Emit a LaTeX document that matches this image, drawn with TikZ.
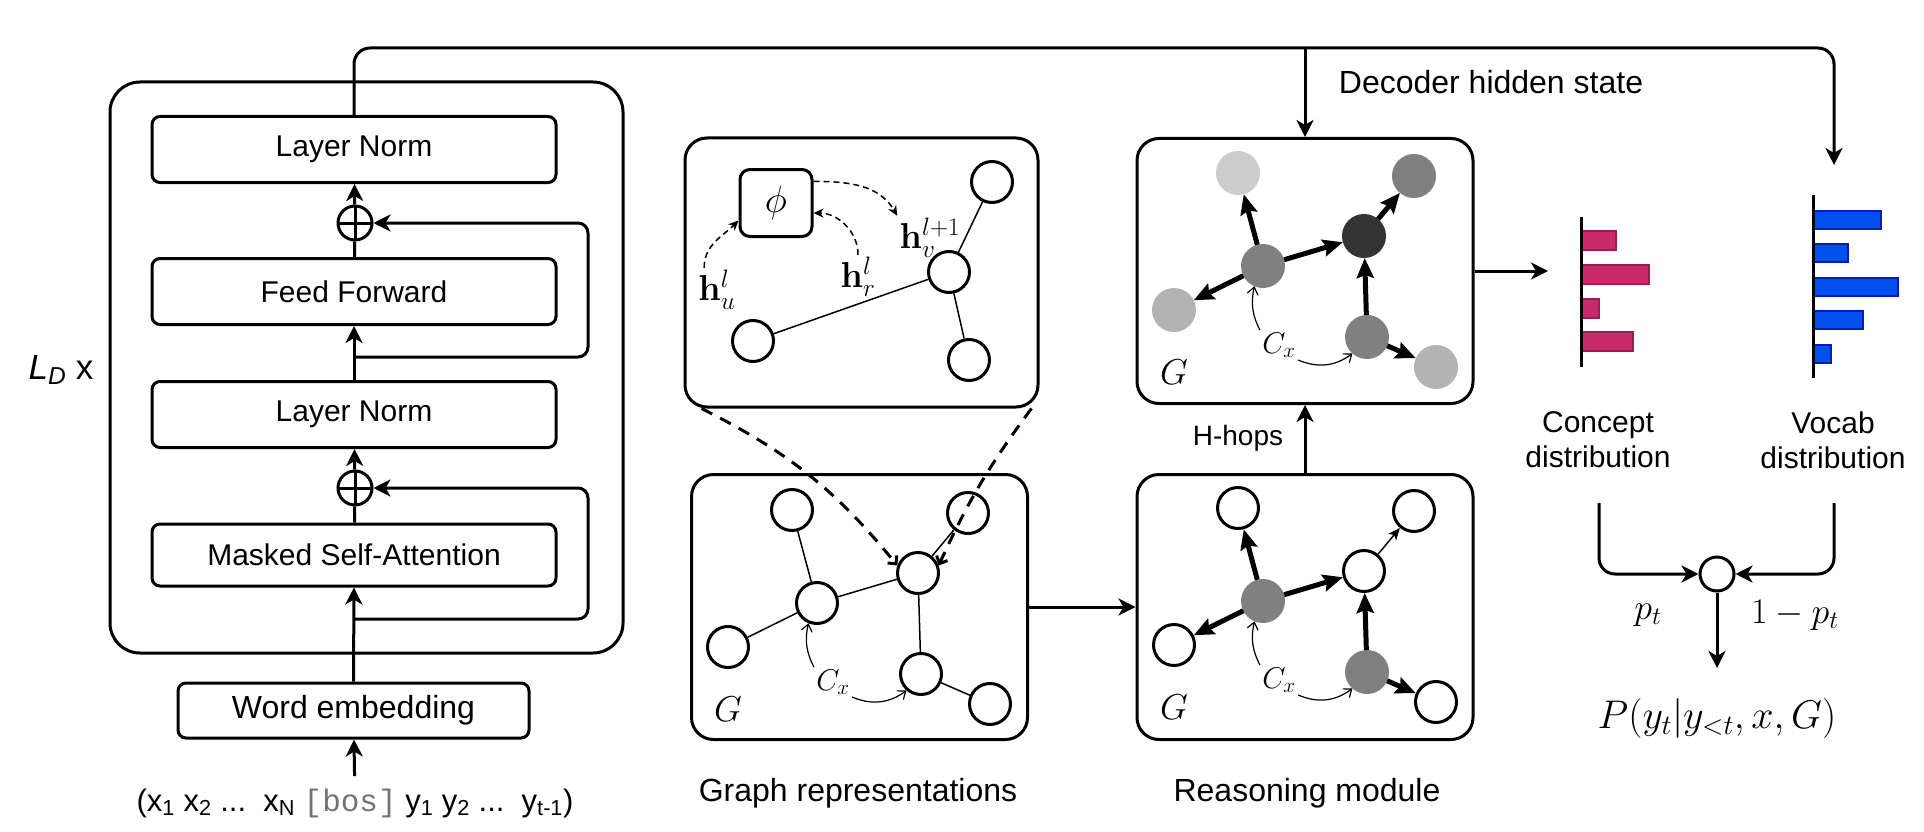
\documentclass[tikz,border=0pt]{standalone}
\usepackage{fix-cm}
\usepackage[no-math]{fontspec}
\setmainfont{Liberation Sans}
\setmonofont{Liberation Mono}
\usetikzlibrary{arrows.meta}

\definecolor{conc}{HTML}{C82A6C}
\definecolor{concd}{HTML}{9E1C50}
\definecolor{voc}{HTML}{0050EF}
\definecolor{vocd}{HTML}{001DBC}
\definecolor{hopM}{HTML}{808080}
\definecolor{hopD}{HTML}{333333}
\definecolor{hopL}{HTML}{B3B3B3}
\definecolor{hopP}{HTML}{CCCCCC}

\tikzset{>={Stealth[length=17pt,width=17pt,inset=5pt]},
  blk/.style={draw,line width=3pt,rounded corners=8pt,minimum width=404pt,minimum height=66pt,font=\fontsize{30}{36}\selectfont},
  panel/.style={draw,line width=3pt,rounded corners=22pt,minimum width=336pt,minimum height=265pt},
  addc/.style={circle,draw,line width=3pt,minimum size=34pt,inner sep=0pt,
    path picture={\draw[line width=3pt] (path picture bounding box.north)--(path picture bounding box.south)
      (path picture bounding box.west)--(path picture bounding box.east);}},
  gnode/.style={circle,line width=3pt,minimum size=41pt,inner sep=0pt},
  nopen/.style={draw=black,fill=white},
  nmid/.style={draw=hopM,fill=hopM},
  ndark/.style={draw=hopD,fill=hopD},
  nlight/.style={draw=hopL,fill=hopL},
  npale/.style={draw=hopP,fill=hopP},
  link/.style={line width=1.5pt},
  hop/.style={line width=5pt,-{Stealth[length=20pt,width=17pt,inset=3pt]}},
  hopthin/.style={line width=1.5pt,-{Stealth[length=12pt,width=10pt,inset=3pt]}},
  cxarr/.style={line width=1.2pt,-{Straight Barb[length=7pt,width=11pt]}},
  msg/.style={line width=1.5pt,dash pattern=on 6pt off 4pt,-{Stealth[length=10pt,width=9pt,inset=3pt]}},
  zoomln/.style={line width=3pt,dash pattern=on 12pt off 9pt,-{Straight Barb[length=6pt,width=12pt]}},
  txt/.style={font=\fontsize{30}{35}\selectfont,inner sep=2pt},
  capt/.style={font=\fontsize{32}{38}\selectfont,inner sep=2pt},
  hlbl/.style={font=\fontsize{36}{40}\selectfont,inner sep=1pt},
  gl/.style={font=\fontsize{36}{40}\selectfont,inner sep=1pt},
  cxl/.style={font=\fontsize{30}{34}\selectfont,inner sep=1pt},
  plbl/.style={font=\fontsize{36}{40}\selectfont,inner sep=1pt},
  cbar/.style={line width=2.5pt,draw=concd,fill=conc},
  vbar/.style={line width=2.5pt,draw=vocd,fill=voc}}

\begin{document}
\begin{tikzpicture}[x=1pt,y=1pt,line width=3pt]
  \useasboundingbox (0,0) rectangle (1924,-832);
  \node[draw,line width=3pt,rounded corners=30pt,minimum width=513pt,minimum height=571pt] (dec) at (366.5,-367.5) {};
  \node[blk] (ln2) at (354,-149.5) {Layer Norm};
  \node[addc] (add1) at (355,-223) {};
  \node[blk] (ff) at (354,-291.5) {Feed Forward};
  \node[blk] (ln1) at (354,-414.5) {Layer Norm};
  \node[addc] (add0) at (355,-488) {};
  \node[blk,minimum height=62pt] (msa) at (354,-555) {Masked Self-Attention};
  \node[blk,minimum width=351pt,minimum height=55pt,font=\fontsize{32}{38}\selectfont] (we) at (353.5,-710.5) {Word embedding};
  \node[txt,font=\fontsize{31}{36}\selectfont] (inp) at (355,-803) {(x\textsubscript{1} x\textsubscript{2} ...\ \ x\textsubscript{N} {\ttfamily\color{black!55}[bos]} y\textsubscript{1} y\textsubscript{2} ...\ \ y\textsubscript{t-1})};
  \node[txt,font=\fontsize{35}{40}\selectfont] (ld) at (61,-370) {\textit{L}\textsubscript{\textit{D}} x};
  \coordinate (res0) at (355,-619);
  \coordinate (res1) at (355,-357);
  \draw[->,shorten <=9pt] (inp) -- (we);
  \draw[->] (we) -- (msa);
  \draw (msa) -- (add0);
  \draw[->] (add0) -- (ln1);
  \draw[->] (ln1) -- (ff);
  \draw (ff) -- (add1);
  \draw[->] (add1) -- (ln2);
  \draw[->,rounded corners=10pt] (res0) -- ++(233,0) |- (add0);
  \draw[->,rounded corners=10pt] (res1) -- ++(233,0) |- (add1);

  \node[panel,minimum width=353pt,minimum height=269pt] (zoom) at (861.5,-272.5) {};
  \node[draw,line width=3pt,rounded corners=10pt,minimum width=72pt,minimum height=67pt,font=\fontsize{38}{42}\selectfont] (phi) at (776,-203) {$\phi$};
  \foreach \n/\x/\y in {tr/992/182,c/949/272,b/969/360,l/753/341}
    \node[gnode,nopen] (z\n) at (\x,-\y) {};
  \foreach \b in {tr,b,l} \draw[link] (zc) -- (z\b);
  \node[hlbl] (hu) at (717,-290) {$\mathbf{h}_u^l$};
  \node[hlbl] (hr) at (858,-277) {$\mathbf{h}_r^l$};
  \node[hlbl] (hv) at (930,-238) {$\mathbf{h}_v^{l+1}$};
  \draw[msg] (hu.120) to[out=90,in=225] (phi.205);
  \draw[msg] (hr.north) to[out=90,in=0] (phi.-15);
  \draw[msg] (phi.30) to[out=0,in=120] (hv.north west);

  \node[panel] (rep) at (859.5,-607) {};
  \node[panel] (hop0) at (1305,-607) {};
  \node[panel] (hop1) at (1305,-271) {};
  \foreach \n/\x/\y in {tl/101/34,tr/277/37,cl/126/127,cr/227/97,l/37/171,bm/230/198,br/299/228}
    \node[gnode,nopen] (g\n) at (691+\x,-476-\y) {};
  \foreach \n/\x/\y/\s in {tl/101/34/nopen,tr/277/37/nopen,cl/126/127/nmid,cr/227/97/nopen,l/37/171/nopen,bm/230/198/nmid,br/299/228/nopen}
    \node[gnode,\s] (a\n) at (1137+\x,-474-\y) {};
  \foreach \n/\x/\y/\s in {tl/101/34/npale,tr/277/37/nmid,cl/126/127/nmid,cr/227/97/ndark,l/37/171/nlight,bm/230/198/nmid,br/299/228/nlight}
    \node[gnode,\s] (b\n) at (1137+\x,-139-\y) {};
  \foreach \a/\b in {tl/cl,cl/l,cl/cr,cr/tr,cr/bm,bm/br} \draw[link] (g\a) -- (g\b);
  \foreach \a/\b in {cl/tl,cl/l,cl/cr,bm/cr,bm/br} \draw[hop] (a\a) -- (a\b);
  \draw[hopthin] (acr) -- (atr);
  \foreach \a/\b in {cl/tl,cl/l,cl/cr,bm/cr,bm/br,cr/tr} \draw[hop] (b\a) -- (b\b);
  \foreach \p/\x/\y in {g/691/476,a/1137/474,b/1137/139}{
    \node[gl] (\p G) at (\x+37,-\y-233) {$G$};
    \node[cxl] (\p cx) at (\x+142,-\y-206) {$C_x$};
    \draw[cxarr] (\p cx.north west) to[bend left=20] (\p cl);
    \draw[cxarr] (\p cx.south east) to[bend right=30] (\p bm);
  }
  \draw[zoomln] ([xshift=18pt]zoom.south west) to[bend left=12] (gcr.160);
  \draw[zoomln] ([xshift=-8pt]zoom.south east) to[bend right=6] (gcr.20);
  \node[capt] (grcap) at (858,-793) {Graph representations};
  \node[capt] (rmcap) at (1307,-793) {Reasoning module};
  \draw[->] (rep) -- (hop0);
  \draw[->] (hop0) -- (hop1);
  \node[txt,font=\fontsize{28}{32}\selectfont] (hh) at (1238,-438) {H-hops};

  \coordinate (hid) at (1834,-48);
  \coordinate (vin) at (1834,-165);
  \coordinate (cin) at (1548,-271);
  \draw[->,rounded corners=16pt] (ln2) |- (hid) -- (vin);
  \draw[->] (hop1.north |- hid) -- (hop1);
  \node[capt] (dhs) at (1491,-82) {Decoder hidden state};
  \draw[->] (hop1) -- (cin);

  \foreach \y/\w in {231/35,265/68,299/18,332/52} \draw[cbar] (1581,-\y) rectangle ++(\w,-19);
  \foreach \y/\w in {211/68,244/35,278/85,311/50,345/18} \draw[vbar] (1813,-\y) rectangle ++(\w,-18);
  \draw (1581,-217) -- (1581,-367);
  \draw (1813,-195) -- (1813,-378);
  \node[txt,align=center] (cdist) at (1598,-440) {Concept\\distribution};
  \node[txt,align=center] (vdist) at (1833,-440) {Vocab\\distribution};

  \node[circle,draw,line width=3pt,minimum size=34pt,inner sep=0pt] (mix) at (1717,-574) {};
  \coordinate (cout) at (1599,-503);
  \coordinate (vout) at (1834,-503);
  \coordinate (pout) at (1717,-668);
  \draw[->,rounded corners=16pt] (cout) |- (mix);
  \draw[->,rounded corners=16pt] (vout) |- (mix);
  \draw[->] (mix) -- (pout);
  \node[plbl] (pc) at (1648,-615) {$p_t$};
  \node[plbl] (pv) at (1795,-615) {$1-p_t$};
  \node[plbl,font=\fontsize{40}{44}\selectfont] (py) at (1717,-718) {$P(y_t|y_{<t},x,G)$};
\end{tikzpicture}
\end{document}
